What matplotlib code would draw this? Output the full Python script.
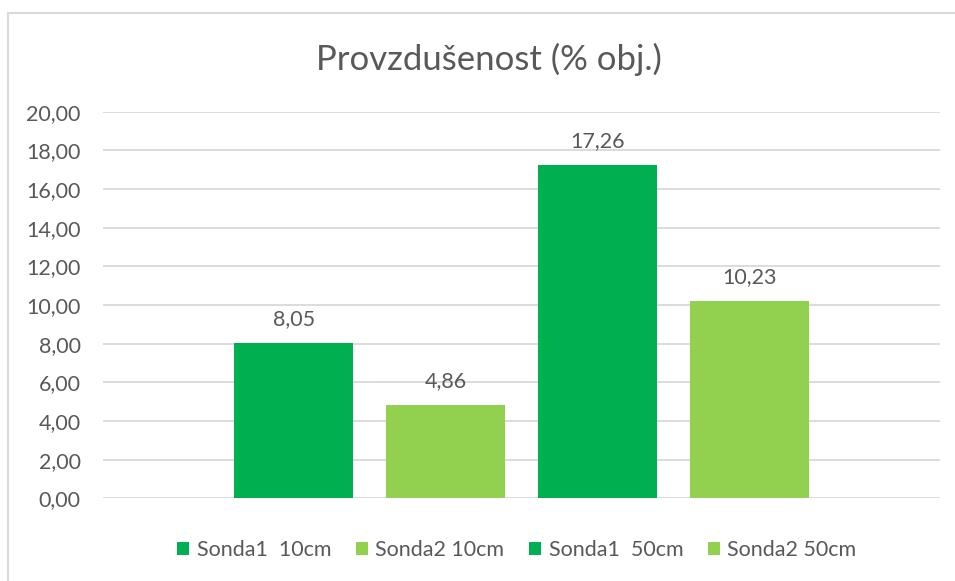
import matplotlib.pyplot as plt
from matplotlib.patches import Rectangle

plt.rcParams['font.family'] = ['Lato', 'DejaVu Sans']

title = 'Provzdušenost (% obj.)'
series = ['Sonda1  10cm', 'Sonda2 10cm', 'Sonda1  50cm', 'Sonda2 50cm']
values = [8.05, 4.86, 17.26, 10.23]
colors = ['#00B050', '#92D050', '#00B050', '#92D050']
yticks = [0, 2, 4, 6, 8, 10, 12, 14, 16, 18, 20]

txt = '#595959'
grid = '#D9D9D9'

fig = plt.figure(figsize=(9.55, 5.81), dpi=100)
ax = fig.add_axes([0.1079, 0.142, 0.8764, 0.6657])

# chart border (only top and left edges visible in the reference)
fig.patches.append(Rectangle((8 / 955, -0.1), 1.2, (581 - 13) / 581 + 0.1,
                             transform=fig.transFigure, fill=False,
                             edgecolor='#D9D9D9', linewidth=1.5))

bars = []
for i, v in enumerate(values):
    b = ax.bar(i, v, width=0.784, color=colors[i], label=series[i], zorder=3)
    bars.append(b)
    ax.text(i, v + 0.7, f'{v:.2f}'.replace('.', ','), ha='center', va='bottom',
            fontsize=15.5, color=txt)

ax.set_xlim(-1.255, 4.255)
ax.set_ylim(0, 20)
ax.set_yticks(yticks)
ax.set_yticklabels([f'{t:.2f}'.replace('.', ',') for t in yticks], fontsize=15.5, color=txt)
ax.set_xticks([])
ax.tick_params(axis='y', length=0, pad=16)
ax.grid(axis='y', color=grid, linewidth=1.3, zorder=0)
for s in ax.spines.values():
    s.set_visible(False)

fig.text(489 / 955, 1 - 59 / 581, title, ha='center', va='center',
         fontsize=25, color=txt)

leg = fig.legend(handles=[b[0] for b in bars], labels=series, loc='center',
                 bbox_to_anchor=(517 / 955, 1 - 550 / 581), ncol=4, frameon=False,
                 fontsize=15.5, handlelength=0.55, handleheight=0.55, handletextpad=0.35,
                 columnspacing=1.15, labelcolor=txt)

fig.savefig('out.png', dpi=100)
